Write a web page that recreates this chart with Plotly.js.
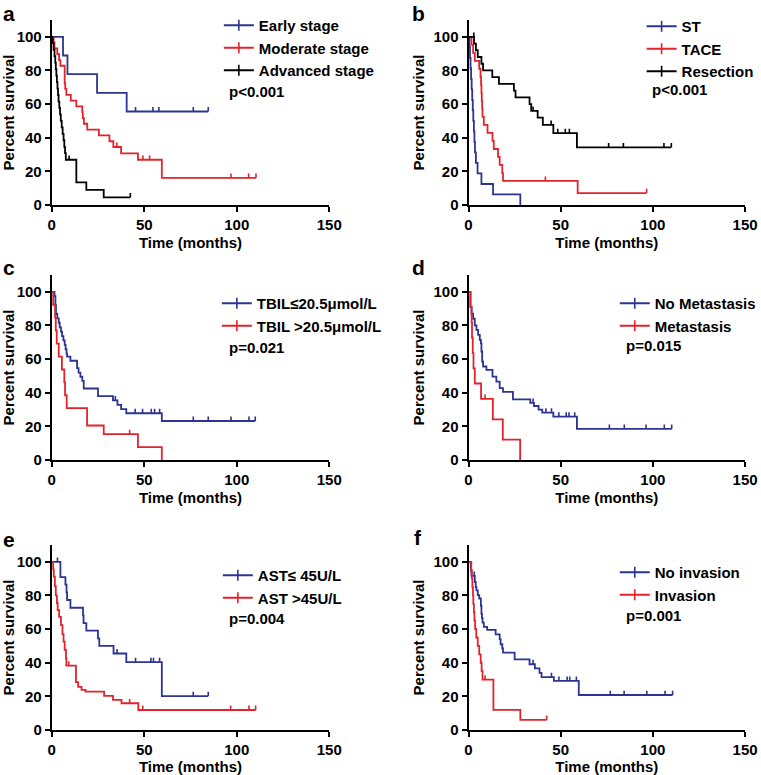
<!DOCTYPE html>
<html>
<head>
<meta charset="utf-8">
<script src="https://cdn.plot.ly/plotly-3.0.1.min.js"></script>
<style>
  html, body { margin: 0; padding: 0; background: #fff; }
  #chart { width: 761px; height: 775px; }
</style>
</head>
<body>
<div id="chart"></div>
<script>
// ---- survival data (time in months, survival in %) ----
// each group: event times (T), survival after each event (S), censored times (C)

// a: tumour stage
var aEarlyT = [6.1, 8.5, 24.5, 40.5];
var aEarlyS = [88.9, 77.8, 66.7, 55.6];
var aEarlyC = [45.3, 54.7, 57.9, 76.5, 84.6];
var aModT = [1.0, 1.5, 3.0, 4.0, 4.7, 7.0, 7.3, 7.9, 10.3, 13.3, 16.5, 16.8, 17.4, 19.2, 25.5, 31.2, 33.3, 37.5, 46.6, 59.5];
var aModS = [96.6, 93.1, 89.7, 86.2, 82.8, 72.4, 69.0, 65.5, 62.1, 58.6, 55.2, 51.7, 48.3, 44.8, 41.4, 37.9, 34.5, 30.7, 26.9, 16.1];
var aModC = [35.2, 49.3, 52.9, 96.9, 106.4, 110.4];
var aAdvT = [0.5, 1.0, 1.5, 1.9, 2.2, 2.5, 2.8, 3.1, 3.4, 3.7, 4.1, 4.5, 4.9, 5.4, 5.9, 6.4, 6.8, 7.2, 7.6, 13.3, 18.7, 28.1];
var aAdvS = [96.2, 92.3, 88.5, 84.6, 80.8, 76.9, 73.1, 69.2, 65.4, 61.5, 57.7, 53.8, 50.0, 46.2, 42.3, 38.5, 34.6, 30.8, 26.9, 13.5, 9.0, 4.5];
var aAdvC = [9.4, 42.5];

// b: treatment
var bStT = [0.5, 0.8, 1.1, 1.4, 1.7, 2.0, 2.3, 2.6, 2.9, 3.2, 3.5, 4.0, 4.9, 7.0, 13.3, 28.1];
var bStS = [93.8, 87.5, 81.3, 75.0, 68.8, 62.5, 56.3, 50.0, 43.8, 37.5, 31.3, 25.0, 18.8, 12.5, 6.3, 0];
var bStC = [];
var bTaceT = [1.6, 2.5, 3.4, 5.8, 6.5, 6.8, 7.0, 7.2, 7.4, 7.6, 8.3, 10.3, 13.0, 13.7, 16.0, 16.9, 18.3, 18.7, 59.2];
var bTaceS = [95.2, 90.5, 85.7, 81.0, 76.2, 71.4, 66.7, 61.9, 57.1, 52.4, 47.6, 42.9, 38.1, 33.3, 28.6, 23.8, 19.0, 14.3, 7.1];
var bTaceC = [41.7, 96.6];
var bResT = [3.0, 4.0, 5.0, 7.0, 7.9, 12.9, 16.5, 24.6, 25.5, 33.1, 34.0, 37.5, 40.3, 46.0, 58.8];
var bResS = [96, 92, 88, 84, 80, 76, 72, 68, 64, 60, 56, 52, 47.6, 42.7, 34.3];
var bResC = [2.9, 35.0, 44.8, 48.4, 52.5, 54.7, 76.0, 84.0, 106.0, 110.0];

// c: total bilirubin
var cLowT = [1.5, 2.0, 2.3, 3.0, 3.8, 4.3, 5.0, 5.6, 6.3, 7.0, 7.5, 8.0, 8.3, 10.1, 13.7, 14.5, 15.5, 16.5, 17.3, 25.0, 33.1, 35.5, 37.5, 40.3, 59.5];
var cLowS = [97.4, 92.1, 86.8, 84.2, 81.6, 78.9, 76.3, 73.7, 71.1, 68.4, 65.8, 63.2, 61.5, 59.0, 54.6, 52.0, 49.5, 47.0, 42.5, 38.0, 35.5, 32.8, 30.3, 27.8, 23.2];
var cLowC = [34.4, 45.1, 49.1, 53.8, 55.6, 58.3, 76.5, 84.6, 96.9, 106.6, 110.0];
var cHighT = [0.8, 1.8, 2.2, 2.7, 3.8, 5.5, 6.8, 7.2, 8.1, 19.1, 28.1, 46.6, 59.5];
var cHighS = [92.3, 84.6, 76.9, 69.2, 61.5, 53.8, 46.2, 38.5, 30.8, 20.5, 15.4, 7.7, 0];
var cHighC = [42.1];

// d: metastasis
var dNoT = [1.1, 1.6, 2.5, 3.4, 4.3, 5.2, 6.1, 6.7, 7.0, 7.4, 7.9, 9.7, 13.0, 15.1, 16.9, 18.7, 24.1, 33.5, 35.5, 38.0, 40.0, 46.0, 58.8];
var dNoS = [91, 87, 84, 80, 77.4, 74.4, 71.4, 69.4, 64.5, 58.5, 55.6, 53.6, 49.6, 46.6, 42.7, 40.5, 36.1, 34.0, 32.1, 30.0, 28.2, 25.8, 18.5];
var dNoC = [35.0, 42.0, 45.0, 49.0, 53.0, 54.5, 57.6, 76.4, 84.5, 96.3, 106.2, 110.2];
var dMetT = [1.0, 1.7, 1.9, 2.3, 2.7, 3.4, 6.8, 13.2, 18.6, 28.0];
var dMetS = [90.9, 81.8, 72.7, 63.6, 54.5, 45.5, 36.4, 24.2, 12.1, 0];
var dMetC = [9.0];

// e: AST
var eLowT = [4.7, 7.4, 8.0, 8.3, 10.1, 16.9, 17.2, 18.7, 25.0, 25.7, 33.4, 40.3, 59.5];
var eLowS = [90.9, 86.4, 81.8, 77.3, 72.7, 68.2, 63.6, 59.1, 54.5, 50.0, 45.5, 40.3, 20.2];
var eLowC = [3.1, 35.3, 45.3, 53.6, 55.0, 58.3, 76.5, 84.6];
var eHighT = [0.8, 1.1, 1.7, 2.2, 2.8, 3.2, 4.0, 5.0, 5.8, 6.4, 7.0, 7.7, 7.9, 13.1, 14.3, 16.1, 18.3, 28.3, 33.1, 37.7, 46.8];
var eHighS = [95.5, 91.2, 85.5, 80.0, 75.5, 71.3, 67.3, 62.4, 57.0, 52.6, 47.6, 42.5, 38.3, 28.5, 25.7, 23.8, 22.8, 20.3, 17.9, 15.9, 11.9];
var eHighC = [9.2, 42.1, 49.2, 96.7, 106.6, 110.2];

// f: vascular invasion
var fNoT = [1.2, 1.4, 1.6, 3.4, 3.9, 4.3, 5.0, 5.8, 6.7, 7.0, 7.3, 7.6, 8.3, 10.1, 14.7, 16.9, 17.4, 18.3, 18.7, 25.0, 33.1, 36.0, 38.5, 39.6, 46.3, 59.8];
var fNoS = [97.2, 94.4, 91.7, 88.0, 85.0, 83.0, 80.2, 78.2, 73.8, 69.0, 66.5, 63.9, 61.3, 59.5, 56.9, 54.0, 51.0, 48.5, 46.0, 42.0, 39.1, 36.6, 34.0, 31.4, 29.2, 20.8];
var fNoC = [3.1, 35.0, 45.0, 49.0, 53.5, 54.9, 58.5, 76.9, 84.4, 96.7, 106.6, 110.7];
var fInvT = [1.5, 1.8, 2.1, 2.4, 2.6, 2.9, 3.2, 3.6, 4.2, 5.0, 5.8, 6.6, 7.1, 7.6, 13.5, 28.1];
var fInvS = [95, 90, 85, 80, 75, 70, 65, 60, 55, 50, 45, 40, 35, 30, 12, 6];
var fInvC = [9.0, 42.4];

var xTicks = [0, 50, 100, 150];
var yTicks = [0, 20, 40, 60, 80, 100];
var panelLetters = ['a', 'b', 'c', 'd', 'e', 'f'];
var pValues = ['p<0.001', 'p<0.001', 'p=0.021', 'p=0.015', 'p=0.004', 'p=0.001'];

var BLUE = '#2b3490', RED = '#e3232b', BLACK = '#000000';
var FONT = 'Liberation Sans, Arial, sans-serif';
var W = 761, H = 775;

var panels = [
  {groups: [
    {name: 'Early stage', t: aEarlyT, s: aEarlyS, c: aEarlyC, color: BLUE},
    {name: 'Moderate stage', t: aModT, s: aModS, c: aModC, color: RED},
    {name: 'Advanced stage', t: aAdvT, s: aAdvS, c: aAdvC, color: BLACK}]},
  {groups: [
    {name: 'ST', t: bStT, s: bStS, c: bStC, color: BLUE},
    {name: 'TACE', t: bTaceT, s: bTaceS, c: bTaceC, color: RED},
    {name: 'Resection', t: bResT, s: bResS, c: bResC, color: BLACK}]},
  {groups: [
    {name: 'TBIL≤20.5μmol/L', t: cLowT, s: cLowS, c: cLowC, color: BLUE},
    {name: 'TBIL >20.5μmol/L', t: cHighT, s: cHighS, c: cHighC, color: RED}]},
  {groups: [
    {name: 'No Metastasis', t: dNoT, s: dNoS, c: dNoC, color: BLUE},
    {name: 'Metastasis', t: dMetT, s: dMetS, c: dMetC, color: RED}]},
  {groups: [
    {name: 'AST≤ 45U/L', t: eLowT, s: eLowS, c: eLowC, color: BLUE},
    {name: 'AST >45U/L', t: eHighT, s: eHighS, c: eHighC, color: RED}]},
  {groups: [
    {name: 'No invasion', t: fNoT, s: fNoS, c: fNoC, color: BLUE},
    {name: 'Invasion', t: fInvT, s: fInvS, c: fInvC, color: RED}]}
];

// pixel layout of the six panels
var colX = [[52, 331], [471, 749]];
var rowY = [[205, 20], [460, 275], [730, 545]];   // [y of 0 %, y of 110 %]
var legendPos = [[220, 9], [645, 10], [218, 287], [618, 287], [219, 559], [618, 556]];
var pPos = [[228, 91], [653, 89], [228, 347], [627, 345], [228, 618], [627, 615]];
var letterPos = [[1, 12.7], [412, 12.7], [1, 266.7], [412, 266.7], [1, 538.7], [414, 536.7]];

function px(x) { return x / W; }
function py(y) { return 1 - y / H; }

function levelAt(t, s, time) {
  var v = 100;
  for (var i = 0; i < t.length; i++) if (t[i] <= time) v = s[i];
  return v;
}

var data = [];
var layout = {
  width: W, height: H,
  margin: {l: 0, r: 0, t: 0, b: 0},
  paper_bgcolor: '#fff', plot_bgcolor: '#fff',
  font: {family: FONT, color: '#000'},
  showlegend: true,
  annotations: []
};

panels.forEach(function (p, k) {
  var n = k + 1;
  var xa = 'x' + (n === 1 ? '' : n), ya = 'y' + (n === 1 ? '' : n);
  var lg = 'legend' + (n === 1 ? '' : n);
  var col = colX[k % 2], row = rowY[Math.floor(k / 2)];

  layout['xaxis' + (n === 1 ? '' : n)] = {
    domain: [px(col[0]), px(col[1])], anchor: ya, range: [0, 150],
    tickvals: xTicks, ticks: 'outside', ticklen: 5, tickwidth: 2, tickcolor: '#000',
    showline: true, linewidth: 2, linecolor: '#000', showgrid: false, zeroline: false,
    tickfont: {family: FONT, size: 15, weight: 'bold'},
    title: {text: 'Time (months)', font: {family: FONT, size: 15, weight: 'bold'}, standoff: 5},
    fixedrange: true
  };
  layout['yaxis' + (n === 1 ? '' : n)] = {
    domain: [py(row[0]), py(row[1])], anchor: xa, range: [0, 110],
    tickvals: yTicks, ticks: 'outside', ticklen: 5, tickwidth: 2, tickcolor: '#000',
    showline: true, linewidth: 2, linecolor: '#000', showgrid: false, zeroline: false,
    tickfont: {family: FONT, size: 15, weight: 'bold'},
    title: {text: 'Percent survival', font: {family: FONT, size: 15, weight: 'bold'}, standoff: 5},
    fixedrange: true
  };
  layout[lg] = {
    x: px(legendPos[k][0]), y: py(legendPos[k][1]), xanchor: 'left', yanchor: 'top',
    bgcolor: 'rgba(0,0,0,0)', borderwidth: 0, tracegroupgap: 0,
    font: {family: FONT, size: 15, weight: 'bold', color: '#000'}
  };

  p.groups.forEach(function (g) {
    var lastT = g.t[g.t.length - 1];
    var lastC = g.c.length ? g.c[g.c.length - 1] : 0;
    var xs = [0].concat(g.t), ys = [100].concat(g.s);
    if (lastC > lastT) { xs.push(lastC); ys.push(g.s[g.s.length - 1]); }

    // step curve
    data.push({type: 'scatter', mode: 'lines', x: xs, y: ys, xaxis: xa, yaxis: ya,
      line: {shape: 'hv', color: g.color, width: 1.8}, showlegend: false, hoverinfo: 'skip'});

    // censor ticks (upward strokes)
    if (g.c.length) {
      data.push({type: 'scatter', mode: 'markers', x: g.c,
        y: g.c.map(function (c) { return levelAt(g.t, g.s, c); }),
        xaxis: xa, yaxis: ya, marker: {size: 2, color: g.color, opacity: 0},
        error_y: {type: 'constant', value: 2.6, valueminus: 0, symmetric: false,
                  width: 0, thickness: 1.6, color: g.color},
        showlegend: false, hoverinfo: 'skip'});
    }

    // legend entry (line with censor tick)
    data.push({type: 'scatter', mode: 'lines+markers', x: [null], y: [null], xaxis: xa, yaxis: ya,
      name: g.name, legend: lg,
      line: {color: g.color, width: 1.8},
      marker: {symbol: 'line-ns-open', size: 8, color: g.color, line: {color: g.color, width: 1.6}}});
  });

  layout.annotations.push({
    xref: 'paper', yref: 'paper', x: px(pPos[k][0]), y: py(pPos[k][1]),
    xanchor: 'left', yanchor: 'middle', showarrow: false, text: pValues[k],
    font: {family: FONT, size: 15, weight: 'bold', color: '#000'}
  });
  layout.annotations.push({
    xref: 'paper', yref: 'paper', x: px(letterPos[k][0]), y: py(letterPos[k][1]),
    xanchor: 'left', yanchor: 'middle', valign: 'middle', height: 22, showarrow: false,
    text: panelLetters[k],
    font: {family: FONT, size: 21, weight: 'bold', color: '#000'}
  });
});

Plotly.newPlot('chart', data, layout, {displayModeBar: false, responsive: false});
</script>
</body>
</html>
